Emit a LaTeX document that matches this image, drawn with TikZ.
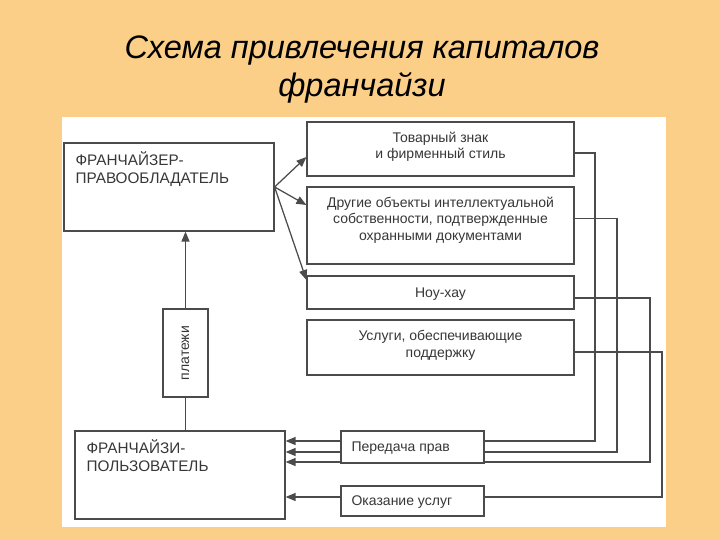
\documentclass[tikz,border=0pt]{standalone}
\usepackage{fontspec}
\setmainfont{Liberation Sans}
\usetikzlibrary{arrows.meta}
\definecolor{bgorange}{RGB}{251,207,136}
\definecolor{linegray}{RGB}{75,75,75}
\definecolor{txtgray}{RGB}{55,55,55}
\begin{document}
\begin{tikzpicture}[x=1pt,y=-1pt,
  box/.style={draw=linegray, line width=1.2pt, fill=white, inner sep=0pt},
  txt/.style={text=txtgray, font=\fontsize{14}{16.5}\selectfont, align=center, inner sep=0pt},
  captxt/.style={text=txtgray, font=\fontsize{15.3}{18}\selectfont, align=left, inner sep=0pt, anchor=north west},
  conn/.style={draw=linegray, line width=1.25pt},
  arr/.style={conn, -{Triangle[length=10pt,width=8pt]}}]
\useasboundingbox (0,0) rectangle (720,540);
\fill[bgorange] (0,0) rectangle (720,540);
\fill[white] (62,117) rectangle (666,527);
% title
\node[font=\fontsize{32.5}{38}\selectfont\itshape, align=center, inner sep=0pt] (title) at (362,70) {Схема привлечения капиталов\\франчайзи};
% boxes (top)
\node[box, minimum width=210pt, minimum height=88pt] (fr) at (169,187) {};
\node[captxt] (frt) at ([shift={(12,9)}]fr.north west) {ФРАНЧАЙЗЕР-\\ПРАВООБЛАДАТЕЛЬ};
\node[box, minimum width=267pt, minimum height=54pt] (tz) at (440.5,149) {};
\node[txt] (tzt) at ([yshift=2pt]tz.center) {Товарный знак\\и фирменный стиль};
\node[box, minimum width=267pt, minimum height=77pt] (dr) at (440.5,225.5) {};
\node[txt] (drt) at ([yshift=5.5pt]dr.center) {Другие объекты интеллектуальной\\собственности, подтвержденные\\охранными документами};
\node[box, minimum width=267pt, minimum height=33pt] (nh) at (440.5,292.5) {};
\node[txt] (nht) at ([yshift=-1.5pt]nh.center) {Ноу-хау};
\node[box, minimum width=267pt, minimum height=55pt] (us) at (440.5,347.5) {};
\node[txt] (ust) at ([yshift=2pt]us.center) {Услуги, обеспечивающие\\поддержку};
% franchisee
\node[box, minimum width=210pt, minimum height=88pt] (fe) at (180,475) {};
\node[captxt] (fet) at ([shift={(12,9)}]fe.north west) {ФРАНЧАЙЗИ-\\ПОЛЬЗОВАТЕЛЬ};
% payments
\node[box, minimum width=45pt, minimum height=88pt] (pl) at (185.5,353) {};
\node[txt, rotate=90] (plt) at (pl.center) {платежи};
% routes on the right
\coordinate (c1) at (595,441);
\coordinate (c2) at (617,452);
\coordinate (c3) at (650,462);
\coordinate (c4) at (662,497);
\draw[arr] ([yshift=-4pt]tz.east) -| (c1) -- (c1 -| fe.east);
\draw[arr] ([yshift=7pt]dr.east) -| (c2) -- (c2 -| fe.east);
\draw[arr] ([yshift=-5.5pt]nh.east) -| (c3) -- (c3 -| fe.east);
\draw[arr] ([yshift=-4.5pt]us.east) -| (c4) -- (c4 -| fe.east);
% label boxes on the lines
\node[box, minimum width=143pt, minimum height=32pt] (pp) at (412.5,447) {};
\node[txt, anchor=west] (ppt) at ([shift={(11,1.5)}]pp.west) {Передача прав};
\node[box, minimum width=143pt, minimum height=30pt] (ou) at (412.5,501) {};
\node[txt, anchor=west] (out) at ([shift={(11,1)}]ou.west) {Оказание услуг};
% arrows from franchisor
\draw[arr] (fr.east) -- ([yshift=-8pt]tz.west);
\draw[arr] (fr.east) -- ([yshift=20.5pt]dr.west);
\draw[arr] (fr.east) -- ([yshift=12.5pt]nh.west);
% payments line
\draw[arr] (pl.north) -- (pl.north |- fr.south);
\draw[conn] (pl.south) -- (pl.south |- fe.north);
\end{tikzpicture}
\end{document}
